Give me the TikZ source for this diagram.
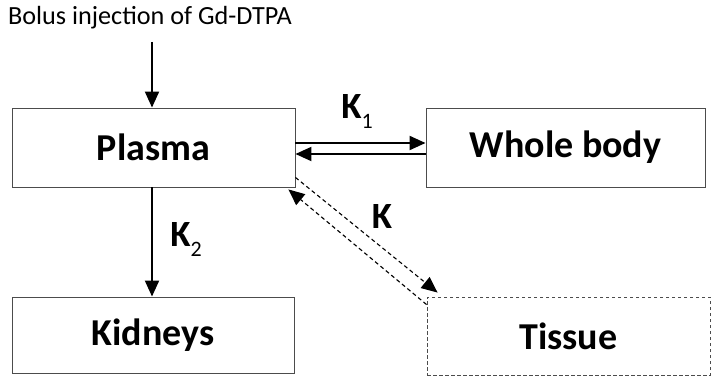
\documentclass[tikz,border=0pt]{standalone}
\usepackage{fontspec}
\setmainfont{Carlito}
\usetikzlibrary{arrows.meta}
\begin{document}
\begin{tikzpicture}[x=1pt,y=-1pt,
  box/.style={draw=black!70, line width=0.9pt, inner sep=0pt, minimum height=79pt,
              font=\fontsize{38}{40}\selectfont\bfseries},
  dbox/.style={box, dash pattern=on 3.5pt off 2.5pt},
  tip/.style={-{Triangle[length=16pt 0,width=14pt 0]}},
  flow/.style={line width=2pt, tip},
  dflow/.style={line width=1.1pt, dash pattern=on 4pt off 3pt, tip},
  klabel/.style={font=\fontsize{37}{40}\selectfont\bfseries, inner sep=0pt}]
\useasboundingbox (0,0) rectangle (715,377);
\fill[white] (0,0) rectangle (715,377);

\node[font=\fontsize{26.2}{30}\selectfont, inner sep=0pt] (bolus) at (150,18) {Bolus injection of Gd-DTPA};
\coordinate (inj) at (152,42);

\node[box, minimum width=283pt] (plasma) at (153.5,147.5) {Plasma};
\node[box, minimum width=279pt] (body) at (565.5,147.5) {Whole body};
\node[box, minimum width=282pt, minimum height=76pt] (kidneys) at (153,335) {Kidneys};
\node[dbox, minimum width=283pt, minimum height=78pt] (tissue) at (568.5,336) {Tissue};

% injection into plasma
\draw[flow] (inj) -- (inj |- plasma.north);

% exchange with the whole body
\draw[flow] ([yshift=4.5pt]plasma.east) -- ([yshift=4.5pt]body.west);
\draw[flow] ([yshift=-6.5pt]body.west) -- ([yshift=-6.5pt]plasma.east);
\node[klabel] (k1) at (357,112) {K\raisebox{-10pt}{\fontsize{22}{22}\selectfont\mdseries 1}};

% renal clearance
\draw[flow] (inj |- plasma.south) -- (inj |- kidneys.north);
\node[klabel] (k2) at (186,240) {K\raisebox{-10pt}{\fontsize{22}{22}\selectfont\mdseries 2}};

% exchange with tissue
\draw[dflow] ([yshift=10pt]plasma.south east) -- ([xshift=11pt,yshift=4pt]tissue.north west);
\draw[dflow] ([yshift=-8pt]tissue.north west) -- ([xshift=-7pt,yshift=-2pt]plasma.south east);
\node[klabel] (k) at (382,217) {K};
\end{tikzpicture}
\end{document}
